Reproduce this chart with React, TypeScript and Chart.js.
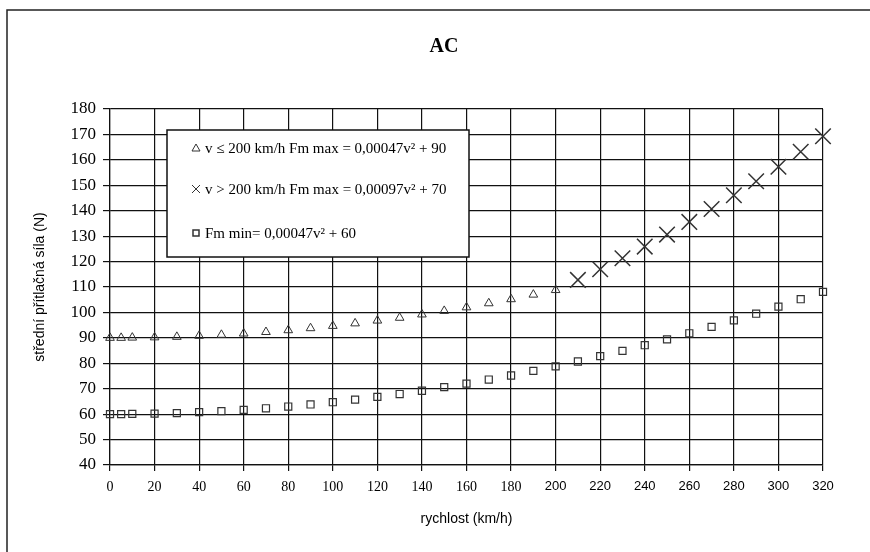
import React, { useEffect, useRef } from 'react';
import { Chart, registerables } from 'chart.js';

Chart.register(...registerables);

// ---- data ----
const triangleSpeeds = [0, 5, 10, 20, 30, 40, 50, 60, 70, 80, 90, 100, 110, 120, 130, 140, 150, 160, 170, 180, 190, 200];
const triangleForces = [90, 90.0, 90.1, 90.2, 90.4, 90.8, 91.2, 91.7, 92.3, 93.0, 93.8, 94.7, 95.7, 96.8, 97.9, 99.2, 100.6, 102.0, 103.6, 105.2, 107.0, 108.8];
const crossSpeeds = [210, 220, 230, 240, 250, 260, 270, 280, 290, 300, 310, 320];
const crossForces = [112.8, 117.0, 121.3, 125.9, 130.6, 135.6, 140.7, 146.1, 151.6, 157.3, 163.2, 169.3];
const squareSpeeds = [0, 5, 10, 20, 30, 40, 50, 60, 70, 80, 90, 100, 110, 120, 130, 140, 150, 160, 170, 180, 190, 200, 210, 220, 230, 240, 250, 260, 270, 280, 290, 300, 310, 320];
const squareForces = [60, 60.0, 60.1, 60.2, 60.4, 60.8, 61.2, 61.7, 62.3, 63.0, 63.8, 64.7, 65.7, 66.8, 67.9, 69.2, 70.6, 72.0, 73.6, 75.2, 77.0, 78.8, 80.7, 82.8, 84.9, 87.1, 89.4, 91.8, 94.3, 96.9, 99.5, 102.3, 105.2, 108.1];

const xMin = 0, xMax = 320, xStep = 20;
const yMin = 40, yMax = 180, yStep = 10;

const chartTitle = 'AC';
const xAxisTitle = 'rychlost (km/h)';
const yAxisTitle = 'střední přítlačná síla (N)';
const legendLabels = [
  'v ≤ 200 km/h Fm max = 0,00047v² + 90',
  'v > 200 km/h Fm max = 0,00097v² + 70',
  'Fm min= 0,00047v² + 60',
];

const SERIF = '"Liberation Serif", "Times New Roman", serif';
const SANS = '"Liberation Sans", Arial, sans-serif';
const MARK = '#333';

const toPoints = (xs: number[], ys: number[]) => xs.map((x, i) => ({ x, y: ys[i] }));

const decorPlugin = {
  id: 'decor',
  afterDraw(chart: any) {
    const ctx = chart.ctx as CanvasRenderingContext2D;
    ctx.save();
    // outer frame
    ctx.strokeStyle = '#222';
    ctx.lineWidth = 1.5;
    ctx.beginPath();
    ctx.moveTo(7, 560);
    ctx.lineTo(7, 10);
    ctx.lineTo(880, 10);
    ctx.stroke();

    // title
    ctx.fillStyle = '#000';
    ctx.font = `bold 20px ${SERIF}`;
    ctx.textAlign = 'center';
    ctx.textBaseline = 'middle';
    ctx.fillText(chartTitle, 444, 47);

    // legend box
    const lx = 167, ly = 130, lw = 302, lh = 127;
    ctx.fillStyle = '#fff';
    ctx.fillRect(lx, ly, lw, lh);
    ctx.strokeStyle = '#111';
    ctx.lineWidth = 1.5;
    ctx.strokeRect(lx, ly, lw, lh);

    const rows = [148, 189, 233];
    const mx = 196;
    ctx.strokeStyle = MARK;
    ctx.lineWidth = 1;
    // triangle
    ctx.beginPath();
    ctx.moveTo(mx, rows[0] - 4);
    ctx.lineTo(mx + 4, rows[0] + 3);
    ctx.lineTo(mx - 4, rows[0] + 3);
    ctx.closePath();
    ctx.stroke();
    // cross
    ctx.beginPath();
    ctx.moveTo(mx - 4, rows[1] - 4);
    ctx.lineTo(mx + 4, rows[1] + 4);
    ctx.moveTo(mx + 4, rows[1] - 4);
    ctx.lineTo(mx - 4, rows[1] + 4);
    ctx.stroke();
    // square
    ctx.lineWidth = 1.5;
    ctx.strokeRect(mx - 3, rows[2] - 3, 6, 6);

    ctx.fillStyle = '#000';
    ctx.font = `15px ${SERIF}`;
    ctx.textAlign = 'left';
    ctx.textBaseline = 'middle';
    legendLabels.forEach((t, i) => ctx.fillText(t, 205, rows[i] + 1));
    ctx.restore();
  },
};

export default function App() {
  const ref = useRef<HTMLCanvasElement>(null);

  useEffect(() => {
    if (!ref.current) return;
    const chart = new Chart(ref.current, {
      type: 'scatter',
      data: {
        datasets: [
          {
            label: legendLabels[0],
            data: toPoints(triangleSpeeds, triangleForces),
            pointStyle: 'triangle',
            pointRadius: 5,
            borderColor: MARK,
            backgroundColor: 'rgba(0,0,0,0)',
            borderWidth: 1,
            showLine: false,
            clip: false,
          },
          {
            label: legendLabels[1],
            data: toPoints(crossSpeeds, crossForces),
            pointStyle: 'crossRot',
            pointRadius: 11,
            borderColor: MARK,
            backgroundColor: 'rgba(0,0,0,0)',
            borderWidth: 1.5,
            showLine: false,
            clip: false,
          },
          {
            label: legendLabels[2],
            data: toPoints(squareSpeeds, squareForces),
            pointStyle: 'rect',
            pointRadius: 5,
            borderColor: MARK,
            backgroundColor: 'rgba(0,0,0,0)',
            borderWidth: 1.2,
            showLine: false,
            clip: false,
          },
        ],
      },
      options: {
        animation: false,
        responsive: false,
        maintainAspectRatio: false,
        layout: { padding: { top: 109, right: 47, left: 0, bottom: 0 } },
        plugins: {
          legend: { display: false },
          title: { display: false },
          tooltip: { enabled: false },
        },
        scales: {
          x: {
            type: 'linear',
            min: xMin,
            max: xMax,
            afterFit: (s: any) => { s.height = 87; },
            ticks: {
              stepSize: xStep,
              color: '#000',
              padding: 8,
              maxRotation: 0,
              font: (c: any) =>
                c.tick && c.tick.value >= 200
                  ? { family: SANS, size: 13 }
                  : { family: SERIF, size: 14 },
            },
            grid: { color: '#111', lineWidth: 1.2, tickLength: 6, tickColor: '#111' },
            border: { display: true, color: '#111', width: 1.2 },
            title: {
              display: true,
              text: xAxisTitle,
              color: '#000',
              font: { family: SANS, size: 14 },
              padding: { top: 4, bottom: 24 },
            },
          },
          y: {
            type: 'linear',
            min: yMin,
            max: yMax,
            afterFit: (s: any) => { s.width = 110; },
            ticks: {
              stepSize: yStep,
              color: '#000',
              padding: 7,
              font: { family: SERIF, size: 17 },
            },
            grid: { color: '#111', lineWidth: 1.2, tickLength: 7, tickColor: '#111' },
            border: { display: true, color: '#111', width: 1.2 },
            title: {
              display: true,
              text: yAxisTitle,
              color: '#000',
              font: { family: SANS, size: 14 },
              padding: { top: 32, bottom: 4 },
            },
          },
        },
      },
      plugins: [decorPlugin],
    } as any);
    return () => chart.destroy();
  }, []);

  return (
    <div style={{ position: 'absolute', left: 0, top: 0, width: 870, height: 552, background: '#fff' }}>
      <canvas ref={ref} width={870} height={552} style={{ display: 'block' }} />
    </div>
  );
}
